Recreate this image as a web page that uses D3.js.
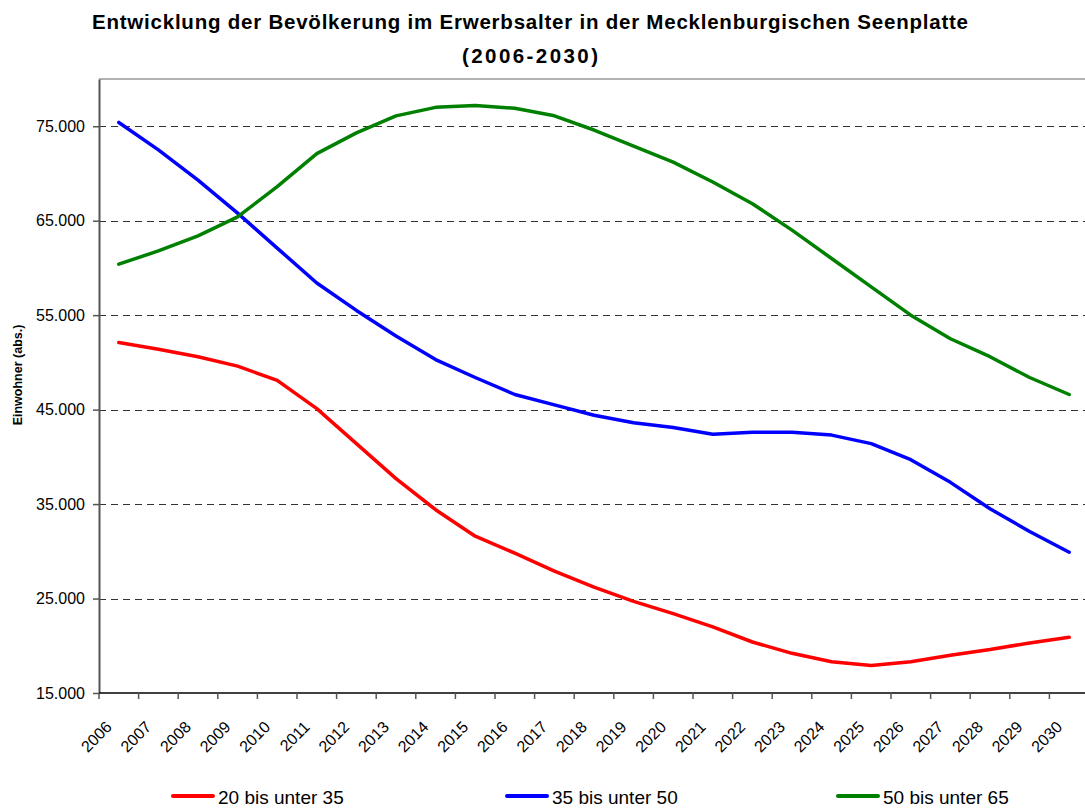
<html>
  <head>
    <meta charset="UTF-8">
    <title>Bevölkerung im Erwerbsalter</title>
    <script src="https://cdn.jsdelivr.net/npm/d3@7"></script>
    <style>
      body {
        margin: 0;
        background: #FFF;
        font-family: "Liberation Sans", Arial, sans-serif;
      }
      .grid line {
        stroke: #333;
        stroke-width: 1;
        stroke-dasharray: 7,5;
      }
      .y.axis path { stroke: #555; stroke-width: 2; }
      .y.axis line { stroke: #555; stroke-width: 1.5; }
      .x.axis path { display: none; }
      .series { fill: none; stroke-width: 3.5; stroke-linejoin: round; stroke-linecap: round; }
    </style>
  </head>
  <body>
    <script>

      // Jahre (Kategorien)
      let years = d3.range(2006, 2031).map(String);

      // Einwohner je Altersgruppe
      let age20to35 = [52100, 51400, 50600, 49600, 48100, 45100, 41400, 37700, 34400, 31600,
        29800, 27900, 26200, 24700, 23400, 22000, 20400, 19200, 18300, 17900,
        18300, 19000, 19600, 20300, 20900];
      let age35to50 = [75400, 72500, 69300, 65800, 62100, 58400, 55500, 52800, 50300, 48400,
        46600, 45500, 44400, 43600, 43100, 42400, 42600, 42600, 42300, 41400,
        39700, 37300, 34500, 32100, 29900];
      let age50to65 = [60400, 61800, 63400, 65400, 68600, 72100, 74300, 76100, 77000, 77200,
        76900, 76100, 74600, 72900, 71200, 69100, 66800, 64000, 61000, 58000,
        55000, 52500, 50600, 48400, 46600];

      let seriesNames = ["20 bis unter 35", "35 bis unter 50", "50 bis unter 65"];
      let seriesColors = ["#FF0000", "#0000FF", "#008000"];
      let seriesValues = [age20to35, age35to50, age50to65];

      let yTicks = [15000, 25000, 35000, 45000, 55000, 65000, 75000];

      let width = 1085, height = 810;

      let svg = d3.select("body").append("svg")
        .attr("width", width)
        .attr("height", height);

      // Scales
      let x = d3.scaleBand().domain(years).range([99, 1089]).padding(0);
      let y = d3.scaleLinear().domain([15000, 80000]).range([693, 79]);

      let de = d3.formatLocale({decimal: ",", thousands: ".", grouping: [3], currency: ["", " €"]});

      // Title
      svg.append("text")
        .attr("x", 530).attr("y", 29)
        .attr("text-anchor", "middle")
        .attr("textLength", 876).attr("lengthAdjust", "spacing")
        .style("font-size", "20.5px").style("font-weight", "bold")
        .text("Entwicklung der Bevölkerung im Erwerbsalter in der Mecklenburgischen Seenplatte");
      svg.append("text")
        .attr("x", 530).attr("y", 63)
        .attr("text-anchor", "middle")
        .attr("textLength", 136).attr("lengthAdjust", "spacing")
        .style("font-size", "20.5px").style("font-weight", "bold")
        .text("(2006-2030)");

      // Plot frame top
      svg.append("line")
        .attr("x1", x.range()[0]).attr("x2", x.range()[1])
        .attr("y1", y(80000)).attr("y2", y(80000))
        .attr("stroke", "#999").attr("stroke-width", 1.5);

      // Gridlines
      svg.append("g")
        .attr("class", "grid")
        .selectAll("line")
        .data(yTicks.filter(d => d > 15000))
        .enter().append("line")
          .attr("x1", x.range()[0]).attr("x2", x.range()[1])
          .attr("y1", d => Math.round(y(d)) + 0.5)
          .attr("y2", d => Math.round(y(d)) + 0.5);

      // Y axis
      svg.append("g")
        .attr("class", "y axis")
        .attr("transform", "translate(99,0)")
        .call(d3.axisLeft(y).tickValues(yTicks).tickSize(6).tickPadding(8).tickSizeOuter(0)
          .tickFormat(de.format(",")))
        .call(g => g.selectAll("text").style("font-size", "16px").style("fill", "#000")
          .style("font-family", "'Liberation Sans', Arial, sans-serif"));

      // X axis baseline + boundary ticks
      svg.append("line")
        .attr("x1", x.range()[0]).attr("x2", x.range()[1])
        .attr("y1", y(15000)).attr("y2", y(15000))
        .attr("stroke", "#000").attr("stroke-width", 1.5);

      svg.append("g")
        .selectAll("line")
        .data(years)
        .enter().append("line")
          .attr("x1", d => x(d)).attr("x2", d => x(d))
          .attr("y1", y(15000)).attr("y2", y(15000) + 6)
          .attr("stroke", "#555").attr("stroke-width", 1.5);

      // Year labels
      svg.append("g")
        .selectAll("text")
        .data(years)
        .enter().append("text")
          .attr("transform", d => "translate(" + (x(d) + x.bandwidth() / 2 - 6) + ",728) rotate(-45)")
          .attr("text-anchor", "end")
          .style("font-size", "16px")
          .text(d => d);

      // Y axis title
      svg.append("text")
        .attr("transform", "translate(22,375) rotate(-90)")
        .attr("text-anchor", "middle")
        .style("font-size", "12.5px").style("font-weight", "bold")
        .text("Einwohner (abs.)");

      // Lines
      let line = d3.line()
        .x((d, i) => x(years[i]) + x.bandwidth() / 2)
        .y(d => y(d));

      seriesValues.forEach((vals, k) => {
        svg.append("path")
          .attr("class", "series")
          .attr("d", line(vals))
          .style("stroke", seriesColors[k]);
      });

      // Legend
      let legendX = [173, 507, 838];
      let legend = svg.selectAll(".legend")
        .data(seriesNames)
        .enter().append("g")
          .attr("class", "legend")
          .attr("transform", (d, i) => "translate(" + legendX[i] + ",796)");

      legend.append("line")
        .attr("x1", 0).attr("x2", 40)
        .attr("stroke", (d, i) => seriesColors[i])
        .attr("stroke-width", 4).attr("stroke-linecap", "round");

      legend.append("text")
        .attr("x", 45).attr("y", 8)
        .style("font-size", "19px")
        .text(d => d);

    </script>
  </body>
</html>
